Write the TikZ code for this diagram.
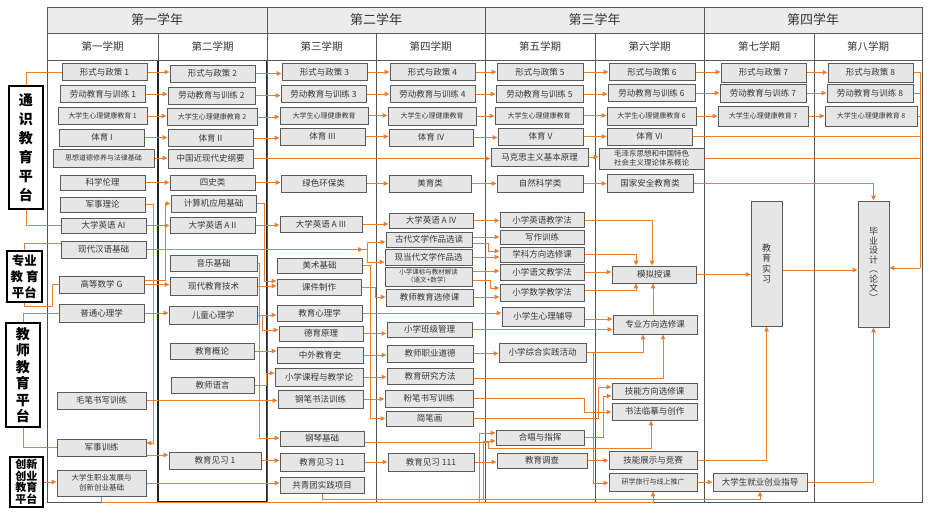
\documentclass[tikz,border=0pt]{standalone}
\usepackage{fontspec}
\setmainfont{Noto Sans CJK SC}
\usetikzlibrary{arrows.meta}
\definecolor{org}{RGB}{237,125,49}
\definecolor{bfill}{RGB}{230,230,230}
\definecolor{bdraw}{RGB}{90,90,90}
\definecolor{txt}{RGB}{55,55,55}
\pgfdeclarelayer{back}
\pgfdeclarelayer{mid}
\pgfsetlayers{back,mid,main}
\begin{document}
\begin{tikzpicture}[x=1pt,y=-1pt,
 box/.style={draw=bdraw, fill=bfill, line width=0.9pt, minimum width=85pt, minimum height=17pt, inner sep=0pt, text=txt, font=\fontsize{8.5}{9.5}\selectfont},
 sbox/.style={box, font=\fontsize{7}{8}\selectfont},
 vbox/.style={box, align=center, minimum width=31pt},
 plat/.style={draw=black, fill=white, line width=1.6pt, inner sep=0pt, align=center, text=black},
 yhead/.style={draw=gray!70!black, fill=gray!15, line width=0.8pt, inner sep=0pt, minimum height=26pt, text=txt, font=\fontsize{13}{15}\selectfont},
 shead/.style={draw=gray!70!black, fill=white, line width=0.8pt, inner sep=0pt, minimum height=27pt, text=txt, font=\fontsize{10.5}{12}\selectfont},
 colln/.style={draw=gray!65!black, line width=0.8pt},
 con/.style={draw=org, line width=1pt},
 arr/.style={con, -{Triangle[length=5pt,width=4.5pt]}}]
\useasboundingbox (0,0) rectangle (930,514);
\begin{pgfonlayer}{back}
\fill[white] (0,0) rectangle (930,514);
\draw[colln] (47,60) rectangle (158,502);
\draw[draw=black!85, line width=1.1pt] (158,60) rectangle (267,502);
\draw[colln] (267,60) rectangle (376,502);
\draw[colln] (376,60) rectangle (485,502);
\draw[colln] (485,60) rectangle (595,502);
\draw[colln] (595,60) rectangle (704,502);
\draw[colln] (704,60) rectangle (814,502);
\draw[colln] (814,60) rectangle (922,502);
\end{pgfonlayer}
% headers
\node[yhead, minimum width=220] (y1) at (157,20) {第一学年};
\node[yhead, minimum width=218] (y2) at (376,20) {第二学年};
\node[yhead, minimum width=219] (y3) at (594.5,20) {第三学年};
\node[yhead, minimum width=218] (y4) at (813,20) {第四学年};
\node[shead, minimum width=111] (s1) at (102.5,46.5) {第一学期};
\node[shead, minimum width=109] (s2) at (212.5,46.5) {第二学期};
\node[shead, minimum width=109] (s3) at (321.5,46.5) {第三学期};
\node[shead, minimum width=109] (s4) at (430.5,46.5) {第四学期};
\node[shead, minimum width=110] (s5) at (540,46.5) {第五学期};
\node[shead, minimum width=109] (s6) at (649.5,46.5) {第六学期};
\node[shead, minimum width=110] (s7) at (759,46.5) {第七学期};
\node[shead, minimum width=108] (s8) at (868,46.5) {第八学期};
% platforms
\node[plat, minimum width=34, minimum height=123, font=\bfseries\fontsize{14}{19}\selectfont] (ts) at (26,147.5) {通\\识\\教\\育\\平\\台};
\node[plat, minimum width=35, minimum height=51, font=\bfseries\fontsize{12.5}{16}\selectfont] (zyp) at (24.5,276.5) {专业\\教\hspace{3pt}育\\平台};
\node[plat, minimum width=34, minimum height=104, font=\bfseries\fontsize{14}{16.5}\selectfont] (jsp) at (23,375) {教\\师\\教\\育\\平\\台};
\node[plat, minimum width=33, minimum height=50, font=\bfseries\fontsize{11}{11.5}\selectfont] (cxp) at (26.5,482) {创新\\创业\\教育\\平台};
% column 1
\node[box] (p1) at (104.5,72) {形式与政策 1};
\node[box] (l1) at (103,94) {劳动教育与训练 1};
\node[sbox, minimum width=89] (x1) at (102.5,116) {大学生心理健康教育 1};
\node[box] (t1) at (102,137.5) {体育 I};
\node[sbox, minimum width=101, minimum height=18] (sxd) at (103.5,158) {思想道德修养与法律基础};
\node[box, minimum height=15] (kx) at (102.5,182.5) {科学伦理};
\node[box, minimum height=15] (jl) at (102.5,204.5) {军事理论};
\node[box, minimum height=15] (e1) at (103.5,225.5) {大学英语 AI};
\node[box] (hy) at (103.5,249.5) {现代汉语基础};
\node[box] (gs) at (101.5,284.5) {高等数学 G};
\node[box, minimum height=18] (pt) at (101.5,313) {普通心理学};
\node[box, minimum width=89] (mb) at (101.5,400.5) {毛笔书写训练};
\node[box, minimum width=89] (jx) at (101.5,447.5) {军事训练};
\node[box, minimum width=89, minimum height=26, align=center, font=\fontsize{7.5}{10}\selectfont] (zy) at (101.5,483) {大学生职业发展与\\创新创业基础};
% column 2
\node[box] (p2) at (212.5,73.5) {形式与政策 2};
\node[box, minimum width=87] (l2) at (211.5,95.5) {劳动教育与训练 2};
\node[sbox, minimum width=90] (x2) at (212,117) {大学生心理健康教育 2};
\node[box] (t2) at (210.5,138) {体育 II};
\node[box, minimum height=19] (zg) at (210.5,158.5) {中国近现代史纲要};
\node[box, minimum height=15] (ss) at (212.5,182.5) {四史类};
\node[box] (jsj) at (213.5,203.5) {计算机应用基础};
\node[box, minimum height=16] (e2) at (212.5,225) {大学英语 A II};
\node[box, minimum width=87, minimum height=16] (yy) at (213.5,263) {音乐基础};
\node[box, minimum width=87, minimum height=18] (xj) at (213.5,286) {现代教育技术};
\node[box, minimum width=88, minimum height=18] (et) at (213,315) {儿童心理学};
\node[box, minimum width=84, minimum height=16] (gl) at (212,351) {教育概论};
\node[box, minimum width=83, minimum height=16] (jy) at (212.5,385) {教师语言};
\node[box, minimum width=92] (jx1) at (215,460.5) {教育见习 1};
% column 3
\node[box] (p3) at (324.5,72) {形式与政策 3};
\node[box] (l3) at (323.5,94) {劳动教育与训练 3};
\node[sbox, minimum width=88] (x3) at (324,115.5) {大学生心理健康教育};
\node[box] (t3) at (322.5,136.5) {体育 III};
\node[box] (lh) at (323.5,183.5) {绿色环保类};
\node[box, minimum width=82, minimum height=16] (e3) at (321,224) {大学英语 A III};
\node[box, minimum height=15] (ms) at (319.5,265.5) {美术基础};
\node[box, minimum width=84, minimum height=16] (kj) at (319,287) {课件制作};
\node[box, minimum height=16] (jxl) at (319.5,313) {教育心理学};
\node[box, minimum width=84, minimum height=15] (dy) at (321,333.5) {德育原理};
\node[box, minimum width=86, minimum height=16] (zw) at (320,355) {中外教育史};
\node[box, minimum width=88, minimum height=18] (kc) at (319,377) {小学课程与教学论};
\node[box, minimum width=85, minimum height=18] (gb) at (320.5,399) {钢笔书法训练};
\node[box, minimum width=84, minimum height=15] (gq) at (322,438.5) {钢琴基础};
\node[box, minimum width=84, minimum height=18] (jx2) at (322,462) {教育见习 11};
\node[box, minimum width=84, minimum height=16] (gqt) at (322,485) {共青团实践项目};
% column 4
\node[box] (p4) at (432.5,72) {形式与政策 4};
\node[box] (l4) at (432.5,94) {劳动教育与训练 4};
\node[sbox, minimum width=88, minimum height=18] (x4) at (432,116) {大学生心理健康教育};
\node[box, minimum width=84] (t4) at (431,137.5) {体育 IV};
\node[box, minimum width=82] (myl) at (430,183.5) {美育类};
\node[box, minimum width=84, minimum height=15] (e4) at (431,220.5) {大学英语 A IV};
\node[box, minimum width=86, minimum height=15] (gd) at (429,239.5) {古代文学作品选读};
\node[box, minimum width=87, minimum height=16] (xd) at (428.5,257) {现当代文学作品选};
\node[sbox, minimum width=87, minimum height=19, align=center, font=\fontsize{6.5}{8}\selectfont] (kb) at (428.5,276.5) {小学课标与教材解读\\（语文+数学）};
\node[box, minimum width=87, minimum height=17] (jsxx) at (429.5,297.5) {教师教育选修课};
\node[box, minimum width=85, minimum height=15] (bj) at (429.5,329.5) {小学班级管理};
\node[box, minimum width=86] (zd) at (430,353.5) {教师职业道德};
\node[box, minimum width=86, minimum height=16] (yf) at (430,376) {教育研究方法};
\node[box, minimum width=88] (fb) at (429,398.5) {粉笔书写训练};
\node[box, minimum width=87, minimum height=15] (jbh) at (429.5,418.5) {简笔画};
\node[box, minimum width=86, minimum height=18] (jx3) at (431,462) {教育见习 111};
% column 5
\node[box, minimum width=86] (p5) at (540,72) {形式与政策 5};
\node[box, minimum width=87] (l5) at (539.5,94) {劳动教育与训练 5};
\node[sbox, minimum width=88] (x5) at (539,115.5) {大学生心理健康教育};
\node[box] (t5) at (540.5,136.5) {体育 V};
\node[box, minimum width=97, minimum height=18] (mk) at (539.5,157) {马克思主义基本原理};
\node[box, minimum width=86] (zr) at (540,183.5) {自然科学类};
\node[box, minimum width=84, minimum height=15] (yyj) at (542,220) {小学英语教学法};
\node[box, minimum width=84, minimum height=14] (xz) at (542,237) {写作训练};
\node[box, minimum width=84, minimum height=15] (xk) at (542,254.5) {学科方向选修课};
\node[box, minimum width=84, minimum height=16] (ywj) at (542,272) {小学语文教学法};
\node[box, minimum width=84] (sxj) at (542,292.5) {小学数学教学法};
\node[box, minimum width=82, minimum height=19] (xlf) at (543,316.5) {小学生心理辅导};
\node[box, minimum width=87, minimum height=19] (zh) at (542.5,352.5) {小学综合实践活动};
\node[box, minimum width=88, minimum height=15] (hc) at (540,437.5) {合唱与指挥};
\node[box, minimum width=90, minimum height=15] (dc) at (542,460.5) {教育调查};
% column 6
\node[box, minimum width=86] (p6) at (652,72) {形式与政策 6};
\node[box, minimum width=87] (l6) at (651.5,93) {劳动教育与训练 6};
\node[sbox, minimum width=89, minimum height=18] (x6) at (651.5,116) {大学生心理健康教育 6};
\node[box] (t6) at (649.5,136.5) {体育 VI};
\node[box, minimum width=105, minimum height=21, align=center, font=\fontsize{7.5}{9}\selectfont] (mzd) at (651.5,158.5) {毛泽东思想和中国特色\\社会主义理论体系概论};
\node[box, minimum width=86, minimum height=18] (aq) at (650,183) {国家安全教育类};
\node[box, minimum width=84] (mn) at (654,274.5) {模拟授课};
\node[box, minimum width=84, minimum height=19] (zyx) at (655,324.5) {专业方向选修课};
\node[box, minimum width=85, minimum height=16] (jn) at (654.5,391) {技能方向选修课};
\node[box, minimum width=85] (sf) at (654.5,411.5) {书法临摹与创作};
\node[box, minimum width=88, minimum height=18] (zs) at (653,460) {技能展示与竞赛};
\node[sbox, minimum width=88, minimum height=18] (yx) at (653,482) {研学旅行与线上推广};
% column 7
\node[box, minimum height=19] (p7) at (763.5,72.5) {形式与政策 7};
\node[box, minimum width=86, minimum height=18] (l7) at (763,93) {劳动教育与训练 7};
\node[sbox, minimum width=90, minimum height=20] (x7) at (763,116) {大学生心理健康教育 7};
\node[vbox, minimum height=125, font=\fontsize{9}{10.5}\selectfont] (sxi) at (766.5,263.5) {教\\育\\实\\习};
\node[box, minimum width=94, minimum height=18] (jyzd) at (760,482) {大学生就业创业指导};
% column 8
\node[box, minimum height=19] (p8) at (870.5,72.5) {形式与政策 8};
\node[box, minimum width=86, minimum height=18] (l8) at (870,93) {劳动教育与训练 8};
\node[sbox, minimum width=92, minimum height=20] (x8) at (871,116) {大学生心理健康教育 8};
\node[vbox, minimum height=126, font=\fontsize{9}{9.5}\selectfont] (by) at (873.5,264) {毕\\业\\设\\计\\︵\\论\\文\\︶};
% connectors
\begin{pgfonlayer}{mid}
\foreach \a/\b in {p1/p2,p2/p3,p3/p4,p4/p5,p5/p6,p6/p7,p7/p8,
  l1/l2,l2/l3,l3/l4,l4/l5,l5/l6,l6/l7,l7/l8,
  x1/x2,x2/x3,x3/x4,x4/x5,x5/x6,x6/x7,x7/x8,
  t1/t2,t2/t3,t3/t4,t4/t5,t5/t6,
  sxd/zg,zg/mk,mk/mzd,
  kx/ss,ss/lh,lh/myl,myl/zr,zr/aq,
  e1/e2,e2/e3,e3/e4,e4/yyj,
  gs/xj,xj/kj,pt/et,et/jxl,jxl/xlf,gl/zw,
  dy/bj,zw/zd,kc/yf,gb/fb,mb/gb,
  jx1/jx2,jx2/jx3,jx3/dc,dc/zs,zd/zh,
  ywj/mn,yx/jyzd,mn/sxi,zy/gqt,bj/zyx}
  \draw[arr] (\a.east) -- (\a.east -| \b.west);
% platforms
\draw[con] (ts.north) |- (p1.west);
\draw[con] (ts.south) |- (e1.west);
\draw[con] (zyp.north) |- (hy.west |- 0,243);
\draw[con] (zyp.south) |- (52,306) |- (gs.west);
\draw[con] (jsp.north) |- (pt.west);
\draw[con] (jsp.south) |- (jx.west);
\draw[arr] (cxp.east) -- (cxp.east -| zy.west);
% column 1 -> 2
\draw[arr] (jl.east) -| (153,443) -- (jx.east |- 0,443);
\draw[arr] (gs.east |- 0,280) -| (165,203.5) -- (jsj.west |- 0,203.5);
\draw[con] (hy.east) -- (367,249.5);
\draw[arr] (hy.east) -- (363,249.5);
\draw[arr] (367,249.5) |- (gd.west |- 0,242);
\draw[arr] (367,249.5) |- (xd.west |- 0,262);
\draw[arr] (jx.east |- 0,455) -- (jx1.west |- 0,455);
% column 2 -> 3
\draw[arr] (jsj.east) -| (264,281) -- (kj.west |- 0,281);
\draw[arr] (yy.east) -| (259,438) -- (gq.west |- 0,438);
\draw[arr] (et.east) -| (262,330) -- (dy.west |- 0,330);
\draw[arr] (jy.east) -| (266,373) -- (kc.west |- 0,373);
% column 3 -> 4
\draw[arr] (ms.east) -| (370,418.5) -- (jbh.west |- 0,418.5);
\draw[arr] (kj.east) -| (375,297) -- (jsxx.west |- 0,297);
\draw[arr] (gq.east |- 0,442) -| (488,448) -| (sf.south -| 651,0);
\draw[arr] (zy.south) |- (yx.south |- 0,502) -- (yx.south);
\draw[arr] (gqt.south) |- (jyzd.south |- 0,499) -- (jyzd.south);
\draw[arr] (479,502) |- (hc.west |- 0,433);
\draw[arr] (483,499) |- (hc.west |- 0,441);
% column 4 -> 5
\draw[arr] (gd.east |- 0,237) -- (xz.west |- 0,237);
\draw[arr] (gd.east |- 0,243) -| (488,251) -- (xk.west |- 0,251);
\draw[arr] (xd.east |- 0,257) -- (xk.west |- 0,257);
\draw[arr] (kb.east |- 0,271) -- (ywj.west |- 0,271);
\draw[arr] (kb.east |- 0,280) -| (490,288) -- (sxj.west |- 0,288);
\draw[arr] (jsxx.east |- 0,297) -- (sxj.west |- 0,297);
% column 5 -> 6
\draw[arr] (xlf.east |- 0,319) -- (zyx.west |- 0,319);
\draw[arr] (fb.east) -| (584,412) -- (sf.west |- 0,412);
\draw[arr] (jbh.east) -| (598,387) -- (jn.west |- 0,387);
\draw[arr] (hc.east) -| (603,396) -- (jn.west |- 0,396);
\draw[arr] (zh.east) -| (593,483) -- (yx.west |- 0,483);
\draw[arr] (zh.east) -| (zyx.south -| 643,0);
\draw[arr] (yf.east |- 0,378) -| (zyx.south -| 663,0);
\draw[arr] (yyj.east) -| (mn.north -| 652,0);
\draw[arr] (xk.east) -| (mn.north -| 636,0);
\draw[arr] (sxj.east |- 0,290) -| (mn.south -| 636,0);
\draw[arr] (zyx.north -| 653,0) -- (mn.south -| 653,0);
% to practice and thesis
\draw[arr] (zs.east) -| (sxi.south);
\draw[arr] (sxi.east |- 0,270) -- (by.west |- 0,270);
\draw[arr] (jyzd.east) -| (by.south);
\draw[arr] (aq.east) -| (by.north);
\draw[con] (p8.east) -| (920,268);
\foreach \n in {l8,x8,t6,mzd} \draw[con] (\n.east) -- (\n.east -| 920,0);
\draw[arr] (920,268) -- (by.east |- 0,268);
\end{pgfonlayer}
\end{tikzpicture}
\end{document}
